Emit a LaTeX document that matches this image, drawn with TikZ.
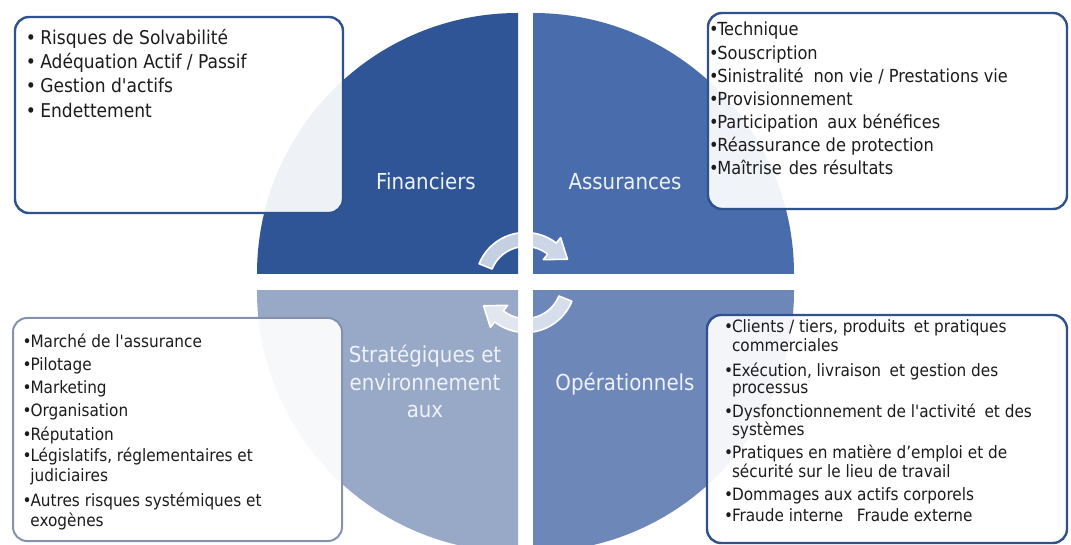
\documentclass[tikz,border=0pt]{standalone}
\usepackage{fontspec}
\setmainfont{DejaVu Sans Condensed}
\newfontfamily\sqfont{DejaVu Sans Condensed}
\definecolor{qA}{RGB}{47,85,151}
\definecolor{qB}{RGB}{72,108,172}
\definecolor{qC}{RGB}{152,168,199}
\definecolor{qD}{RGB}{110,135,185}
\definecolor{bdark}{RGB}{47,82,143}
\definecolor{bgrey}{RGB}{132,146,176}
\definecolor{labelc}{RGB}{238,242,250}
\definecolor{txt}{RGB}{28,28,30}
\newcommand{\blt}{\makebox[0.4em][c]{•}}
\newcommand{\sq}{{\sqfont '}}
\begin{document}
\begin{tikzpicture}[x=1pt,y=-1pt,
  tbox/.style={draw=bdark, line width=2.4pt, fill=white, fill opacity=0.92, rounded corners=14pt, inner sep=0pt},
  gbox/.style={tbox, draw=bgrey, line width=2pt},
  cyc/.style={fill=white, fill opacity=0.72, draw=white, line width=1.6pt, line join=round},
  lab/.style={text=labelc, font=\fontsize{22}{27.5}\selectfont, inner sep=0pt},
  tlt/.style={anchor=base west, inner sep=0pt, text=txt, font=\fontsize{19}{23}\selectfont},
  trt/.style={tlt, font=\fontsize{18}{22}\selectfont},
  blt/.style={tlt, font=\fontsize{17}{20}\selectfont}
]
\useasboundingbox (0,0) rectangle (1071,545);
\fill[white] (0,0) rectangle (1071,545);

% quadrants
\begin{scope}
  \clip (0,0) rectangle (518,274);
  \fill[qA] (518,274) circle[radius=261];
\end{scope}
\begin{scope}
  \clip (533,0) rectangle (1071,274);
  \fill[qB] (533,274) circle[radius=261];
\end{scope}
\begin{scope}
  \clip (0,291) rectangle (518,545);
  \fill[qC] (518,291) circle[radius=261];
\end{scope}
\begin{scope}
  \clip (533,291) rectangle (1071,545);
  \fill[qD] (533,291) circle[radius=261];
\end{scope}

% circular arrows
\def\cx{525.5}\def\cy{282.5}
\path[cyc] plot[domain=158:52, samples=40] ({\cx+50*cos(\x)},{\cy-50*sin(\x)})
  -- ({\cx+57*cos(52)},{\cy-57*sin(52)})
  -- ({\cx+48*cos(29)},{\cy-48*sin(29)})
  -- ({\cx+29*cos(52)},{\cy-29*sin(52)})
  -- plot[domain=52:158, samples=40] ({\cx+36*cos(\x)},{\cy-36*sin(\x)})
  -- cycle;
\path[cyc] plot[domain=338:232, samples=40] ({\cx+50*cos(\x)},{\cy-50*sin(\x)})
  -- ({\cx+57*cos(232)},{\cy-57*sin(232)})
  -- ({\cx+48*cos(209)},{\cy-48*sin(209)})
  -- ({\cx+29*cos(232)},{\cy-29*sin(232)})
  -- plot[domain=232:338, samples=40] ({\cx+36*cos(\x)},{\cy-36*sin(\x)})
  -- cycle;

% quadrant labels
\node[lab, anchor=base] (fin) at (426,190) {Financiers};
\node[lab, anchor=base] (ass) at (625,190) {Assurances};
\node[lab, align=center, anchor=center] (str) at (425,381.7) {Stratégiques et\\environnement\\aux};
\node[lab, anchor=base] (ope) at (625,390.5) {Opérationnels};

% boxes
\node[tbox, minimum width=328pt, minimum height=196pt] (tlbox) at (179,115) {};
\node[tbox, minimum width=359pt, minimum height=196pt] (trbox) at (887.5,111) {};
\node[gbox, minimum width=329pt, minimum height=223pt] (blbox) at (177.5,429.5) {};
\node[tbox, minimum width=360pt, minimum height=228pt] (brbox) at (887,429) {};

% box texts
\foreach \yy/\ltxt [count=\i] in {
  44.3/{\blt\hspace{5.5pt}Risques de Solvabilité},
  68.6/{\blt\hspace{5.5pt}Adéquation Actif / Passif},
  92.9/{\blt\hspace{5.5pt}Gestion d\sq actifs},
  117.2/{\blt\hspace{5.5pt}Endettement}}
  {\node[tlt] (tl\i) at (27,\yy) {\ltxt};}

\foreach \yy/\ltxt [count=\i] in {
  36/{\blt Technique},
  59.1/{\blt Souscription},
  82.2/{\blt Sinistralité\hspace{0.55em}non vie / Prestations vie},
  105.3/{\blt Provisionnement},
  128.4/{\blt Participation\hspace{0.5em}aux bénéfices},
  151.5/{\blt Réassurance de protection},
  174.6/{\blt Maîtrise\hspace{0.4em}des résultats}}
  {\node[trt] (tr\i) at (710,\yy) {\ltxt};}

\foreach \yy/\ltxt [count=\i] in {
  348/{\blt Marché de l\sq assurance},
  370.5/{\blt Pilotage},
  393/{\blt Marketing},
  416.5/{\blt Organisation},
  440/{\blt Réputation},
  461.5/{\blt Législatifs, réglementaires et},
  481.5/{\phantom{\blt}judiciaires},
  506.5/{\blt Autres risques systémiques et},
  526.5/{\phantom{\blt}exogènes}}
  {\node[blt] (bl\i) at (23.5,\yy) {\ltxt};}

\foreach \yy/\ltxt [count=\i] in {
  333/{\blt Clients / tiers, produits\hspace{0.5em}et pratiques},
  352/{\phantom{\blt}commerciales},
  376/{\blt Exécution, livraison\hspace{0.5em}et gestion des},
  393/{\phantom{\blt}processus},
  417/{\blt Dysfonctionnement de l\sq activité\hspace{0.5em}et des},
  435/{\phantom{\blt}systèmes},
  458/{\blt Pratiques en matière d’emploi et de},
  477/{\phantom{\blt}sécurité sur le lieu de travail},
  500/{\blt Dommages aux actifs corporels},
  521/{\blt Fraude interne\hspace{0.8em}Fraude externe}}
  {\node[blt] (br\i) at (725,\yy) {\ltxt};}
\end{tikzpicture}
\end{document}
